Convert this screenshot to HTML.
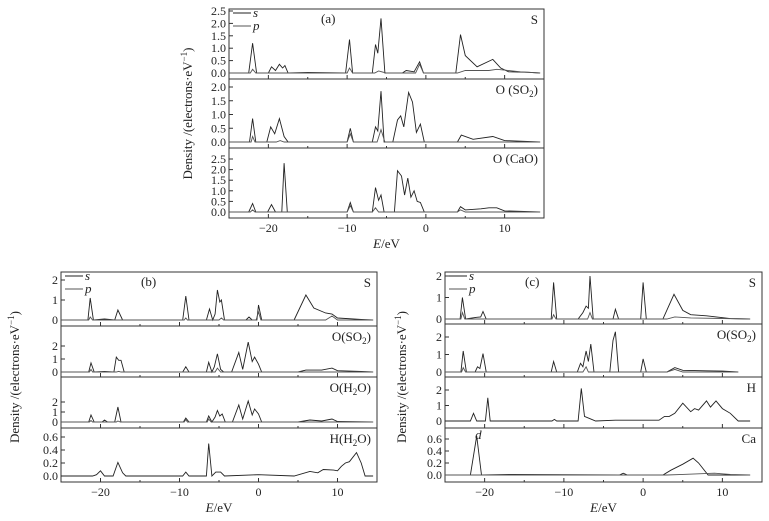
<!DOCTYPE html>
<html><head><meta charset="utf-8"><style>
body{margin:0;background:#fff;width:769px;height:521px;overflow:hidden}
svg{display:block}
text{font-family:"Liberation Serif",serif;fill:#222}
</style></head><body>
<svg id="fig" width="769" height="521" viewBox="0 0 769 521"></svg>
<script>
// ---- data: [E (eV), density] pairs ----
const xTicks=[-20,-10,0,10];
const a_S_p=[[-25,0],[-22.5,0],[-22,1.2],[-21.5,0],[-20,0],[-19.6,0.25],[-19.1,0.1],[-18.6,0.35],[-18.2,0.2],[-17.9,0.3],[-17.5,0],[-15,0.02],[-10.2,0],[-9.7,1.35],[-9.3,0],[-6.8,0],[-6.4,1.15],[-6.1,0.8],[-5.7,2.2],[-5.2,0],[-3,0],[-2.5,0.1],[-1.5,0.05],[-0.8,0.45],[-0.3,0],[3.8,0],[4.4,1.55],[5,0.7],[6.5,0.25],[8.5,0.55],[9.5,0.2],[10.5,0.05],[13,0.03],[14.5,0]];
const a_S_s=[[-25,0],[-22.3,0],[-22,0.15],[-21.6,0],[-10,0],[-9.7,0.2],[-9.3,0],[-6.5,0],[-6,0.08],[-5,0],[-1.3,0],[-0.8,0.35],[-0.3,0],[4,0],[5,0.1],[8,0.1],[9,0.15],[12,0.05],[14.5,0]];
const a_O1_p=[[-25,0],[-22.4,0],[-22,0.85],[-21.6,0],[-20.2,0],[-19.7,0.55],[-19.2,0.3],[-18.6,0.85],[-18,0.2],[-17.5,0],[-10,0],[-9.6,0.5],[-9.2,0],[-6.8,0],[-6.4,0.55],[-6.1,0.4],[-5.7,1.85],[-5.3,0],[-4.2,0],[-3.6,0.8],[-3.2,0.95],[-2.8,0.55],[-2.2,1.8],[-1.7,1.45],[-1.2,0.35],[-0.7,0.65],[-0.2,0],[4,0],[4.5,0.25],[6,0.1],[8.5,0.2],[10,0.05],[14.5,0]];
const a_O1_s=[[-25,0],[-22.2,0],[-22,0.2],[-21.7,0],[-19,0],[-18.5,0.05],[-18,0],[-10,0],[-9.6,0.3],[-9.2,0],[-6.2,0],[-5.7,0.45],[-5.2,0],[14.5,0]];
const a_O2_p=[[-25,0],[-22.5,0],[-22,0.4],[-21.6,0],[-20.1,0],[-19.6,0.35],[-19.1,0],[-18.3,0],[-18,2.3],[-17.6,0],[-10,0],[-9.6,0.45],[-9.2,0],[-6.8,0],[-6.4,1.15],[-6,0.55],[-5.7,0.8],[-5.3,0],[-4,0],[-3.6,1.95],[-3.1,1.7],[-2.7,0.8],[-2.3,1.6],[-1.9,0.7],[-1.5,1.0],[-1.1,0.5],[-0.7,0.45],[-0.2,0],[4,0],[4.4,0.25],[5,0.1],[7,0.15],[8,0.2],[9,0.2],[10,0.05],[14.5,0]];
const a_O2_s=[[-25,0],[-22.3,0],[-22,0.1],[-21.7,0],[-10,0],[-9.6,0.3],[-9.2,0],[-6.8,0],[-6.4,0.2],[-6,0],[4,0],[4.4,0.1],[5,0],[14.5,0]];
const b_S_p=[[-25,0],[-21.6,0],[-21.3,1.1],[-20.9,0],[-19.5,0.05],[-18.2,0],[-17.8,0.5],[-17.2,0],[-9.6,0],[-9.2,1.2],[-8.8,0],[-6.6,0],[-6.2,0.55],[-5.8,0],[-5.5,0.3],[-5.2,1.5],[-4.9,0.9],[-4.7,1.0],[-4.3,0],[-1.6,0],[-1.2,0.15],[-0.8,0],[-0.2,0],[0,0.75],[0.4,0],[4.5,0],[6,1.25],[7,0.6],[8.5,0.35],[9.3,0.3],[10,0.1],[13,0.03],[14.5,0]];
const b_S_s=[[-25,0],[-21.5,0],[-21.3,0.15],[-21,0],[-9.4,0],[-9.2,0.1],[-9,0],[-5,0],[-4.7,0.1],[-4.4,0],[-0.3,0],[0,0.4],[0.3,0],[8.5,0],[9.3,0.2],[10,0],[14.5,0]];
const b_O1_p=[[-25,0],[-21.5,0],[-21.2,0.7],[-20.8,0],[-19.5,0.05],[-18.3,0],[-18,1.15],[-17.7,0.9],[-17.4,0.9],[-17,0],[-9.6,0],[-9.2,0.4],[-8.8,0],[-6.6,0],[-6.3,0.75],[-5.9,0],[-5.6,0.4],[-5.2,1.4],[-4.8,0.2],[-4.4,0],[-3.4,0],[-2.5,1.5],[-2,0.2],[-1.3,2.3],[-0.8,0.8],[-0.5,1.15],[0,0.6],[0.4,0],[5,0],[6,0.15],[8,0.15],[9.3,0.3],[10,0.1],[13,0.05],[14.5,0]];
const b_O1_s=[[-25,0],[-21.4,0],[-21.2,0.2],[-21,0],[-18,0],[-17.7,0.05],[-17.4,0],[-5.5,0],[-5.2,0.3],[-4.8,0],[14.5,0]];
const b_O2_p=[[-25,0],[-21.5,0],[-21.2,0.7],[-20.8,0],[-19.8,0],[-19.5,0.2],[-19.1,0],[-18.2,0],[-17.8,1.5],[-17.4,0],[-9.5,0],[-9.2,0.4],[-8.8,0],[-6.6,0],[-6.3,0.6],[-5.9,0],[-5.5,0.5],[-5.2,1.15],[-4.9,0.6],[-4.6,0.8],[-4.2,0],[-3.3,0],[-2.5,1.7],[-2,0.3],[-1.3,2.1],[-0.8,0.7],[-0.5,1.3],[0,0.8],[0.4,0],[5,0],[6.5,0.2],[8,0.1],[9.3,0.3],[10,0.05],[14.5,0]];
const b_O2_s=[[-25,0],[-21.4,0],[-21.2,0.15],[-21,0],[-18,0],[-17.8,0.1],[-17.5,0],[-9.4,0],[-9.2,0.25],[-9,0],[-6.5,0],[-6.3,0.3],[-6,0],[14.5,0]];
const b_H_s=[[-25,0],[-21,0],[-20.5,0.02],[-20,0.08],[-19.5,0],[-18.4,0],[-17.8,0.21],[-17.2,0.05],[-16.8,0],[-9.6,0],[-9.2,0.06],[-8.8,0],[-6.6,0],[-6.3,0.5],[-5.9,0],[-5.4,0.06],[-4.8,0.06],[-4.3,0],[0,0.02],[4.5,0],[6.5,0.07],[7.5,0.05],[8.2,0.1],[9.5,0.09],[10,0.08],[10.5,0.15],[11,0.2],[11.5,0.22],[12.4,0.36],[13,0.2],[13.5,0],[14.5,0]];
const c_S_p=[[-25,0],[-23.1,0],[-22.8,1.0],[-22.4,0],[-21,0.08],[-20.5,0.1],[-20.2,0.35],[-19.8,0],[-11.6,0],[-11.3,1.7],[-10.9,0],[-8.2,0],[-7.6,0.3],[-7.2,0.6],[-6.9,0.5],[-6.7,2.0],[-6.3,0],[-3.8,0],[-3.5,0.45],[-3.1,0],[-0.3,0],[0,1.7],[0.4,0],[2.5,0],[3.9,1.15],[5,0.4],[6,0.2],[8,0.15],[11,0.02],[13.5,0]];
const c_S_s=[[-25,0],[-23,0],[-22.8,0.3],[-22.5,0],[-11.5,0],[-11.3,0.2],[-11,0],[-7,0],[-6.7,0.3],[-6.4,0],[3,0],[4,0.1],[6,0.05],[13.5,0]];
const c_O_p=[[-25,0],[-23,0],[-22.7,1.2],[-22.3,0],[-21.2,0],[-20.9,0.3],[-20.6,0.2],[-20.2,1.05],[-19.8,0],[-11.6,0],[-11.3,0.6],[-10.9,0],[-8.3,0],[-7.9,0.5],[-7.6,0.3],[-7.2,1.2],[-6.9,0.6],[-6.6,1.6],[-6.2,0],[-4.2,0],[-3.8,1.8],[-3.5,2.3],[-3.1,0],[-0.3,0],[0,0.75],[0.4,0],[3,0],[4,0.25],[5,0.1],[8,0.07],[10,0.05],[12,0]];
const c_O_s=[[-25,0],[-22.9,0],[-22.7,0.25],[-22.4,0],[-7.6,0],[-7.2,0.3],[-6.9,0],[3,0],[4,0.15],[5,0],[12,0]];
const c_H_s=[[-25,0],[-21.8,0],[-21.4,0.5],[-21,0],[-19.9,0],[-19.6,1.5],[-19.3,0],[-11.5,0],[-11.2,0.1],[-10.9,0],[-8.2,0],[-7.8,2.1],[-7.4,0.3],[-6.7,0.15],[-6,0],[-3.5,0.05],[0,0.05],[2,0.05],[2.7,0.3],[3.3,0.3],[4,0.5],[5,1.15],[6,0.6],[6.5,0.8],[7,0.7],[8,1.3],[8.5,0.9],[9.2,1.3],[10,0.8],[11,0.5],[12,0],[13.5,0]];
const c_Ca_d=[[-25,0],[-21.8,0],[-21,0.65],[-20.4,0],[-16.5,0.01],[-3,0],[-2.5,0.03],[-2,0],[2.5,0],[3.5,0.08],[5,0.18],[6.3,0.28],[7,0.2],[8.2,0],[13.5,0]];
const c_Ca_p=[[-25,0],[3,0],[5,0.01],[7,0.02],[9,0.03],[11,0.01],[13.5,0]];
const ticksA1=[0,0.5,1,1.5,2,2.5], ticksA2=[0,0.5,1,1.5,2], ticksB=[0,1,2], ticksH=[0,0.2,0.4,0.6];

const svg=document.getElementById('fig');
const NS='http://www.w3.org/2000/svg';
function mk(tag,attrs,parent){const e=document.createElementNS(NS,tag);for(const k in attrs)e.setAttribute(k,attrs[k]);(parent||svg).appendChild(e);return e;}
function fmt(v,dec){return v<0?'\u2212'+Math.abs(v).toFixed(dec):v.toFixed(dec);}

function panel(p){
  const g=mk('g',{});
  
  
  const xs=e=>p.x0+(e-p.e0)*(p.x1-p.x0)/(p.e1-p.e0);
  p.subs.forEach((s,i)=>{
    const ys=v=>s.y0-v*s.k;
    const sg=mk('g',{},g);
    
    
    const fr=mk('rect',{x:p.x0,y:s.top,width:p.x1-p.x0,height:s.bot-s.top,fill:'none',stroke:'#333','stroke-width':1},sg);
    
    
    s.ticks.forEach(t=>{
      const y=ys(t);
      mk('line',{x1:p.x0,x2:p.x0+4,y1:y,y2:y,stroke:'#333'},sg);
      const tl=mk('text',{x:p.x0-3,y:y+4,'font-size':12,'text-anchor':'end'},sg);
      tl.textContent=s.dec?t.toFixed(s.dec):String(t);
      
      
    });
    [-20,-15,-10,-5,0,5,10].forEach(t=>{const x=xs(t);mk('line',{x1:x,x2:x,y1:s.bot,y2:s.bot-(t%10===0?4:2),stroke:'#333'},sg);});
    s.series.forEach((d,j)=>{
      const pl=mk('polyline',{points:d.map(q=>xs(q[0]).toFixed(1)+','+ys(q[1]).toFixed(1)).join(' '),fill:'none',stroke:j===0?'#222':'#555','stroke-width':0.9},sg);
      
      
    });
    const lb=mk('text',{x:p.x1-6,y:s.top+15,'font-size':13,'text-anchor':'end'},sg);
    lb.innerHTML=s.label;
    
    
    if(s.dlabel){const dl=mk('text',{x:xs(-21.2),y:s.top+11,'font-size':13,'font-style':'italic'},sg);dl.textContent='d';
      
      }
  });
  const top=p.subs[0].top, bot=p.subs[p.subs.length-1].bot;
  xTicks.forEach(t=>{const tl=mk('text',{x:xs(t),y:bot+14,'font-size':12,'text-anchor':'middle'},g);tl.textContent=fmt(t,0);
    
    });
  const xt=mk('text',{x:(p.x0+p.x1)/2,y:bot+30,'font-size':13,'text-anchor':'middle'},g);
  xt.innerHTML='<tspan font-style="italic">E</tspan>/eV';
  
  
  const cy=(top+bot)/2;
  const yt=mk('text',{x:p.ytx,y:cy,'font-size':13,'text-anchor':'middle',transform:'rotate(-90 '+p.ytx+' '+cy+')'},g);
  yt.innerHTML='Density /(electrons\u00b7eV<tspan dy="-5" font-size="9">\u22121</tspan><tspan dy="5">)</tspan>';
  
  
  const lg=mk('g',{},g);
  
  
  [['s',top+7],['p',top+20]].forEach((it,k)=>{
    mk('line',{x1:p.x0+4,x2:p.x0+22,y1:it[1]-3,y2:it[1]-3,stroke:k?'#555':'#222'},lg);
    const t=mk('text',{x:p.x0+24,y:it[1]+1,'font-size':13,'font-style':'italic'},lg);t.textContent=it[0];
    
    
  });
  const pl=mk('text',{x:p.x0+p.tagx,y:top+14,'font-size':13},g);pl.textContent='('+p.id+')';
  
  
}
const sub='<tspan dy="3" font-size="9">2</tspan><tspan dy="-3">)</tspan>';
panel({id:'a',x0:229,x1:544,e0:-25,e1:15,ytx:192,tagx:92,subs:[
 {name:'S',label:'S',top:9,bot:79,y0:73,k:24.8,ticks:ticksA1,dec:1,series:[a_S_p,a_S_s]},
 {name:'O-SO2',label:'O (SO'+sub,top:79,bot:148,y0:142,k:27.5,ticks:ticksA2,dec:1,series:[a_O1_p,a_O1_s]},
 {name:'O-CaO',label:'O (CaO)',top:148,bot:218,y0:212,k:21.2,ticks:ticksA1,dec:1,series:[a_O2_p,a_O2_s]}]});
panel({id:'b',x0:61,x1:377,e0:-25,e1:15,ytx:19,tagx:80,subs:[
 {name:'S',label:'S',top:272,bot:326,y0:320,k:20,ticks:ticksB,series:[b_S_p,b_S_s]},
 {name:'O-SO2',label:'O(SO'+sub,top:326,bot:377,y0:372,k:13,ticks:ticksB,series:[b_O1_p,b_O1_s]},
 {name:'O-H2O',label:'O(H<tspan dy="3" font-size="9">2</tspan><tspan dy="-3">O)</tspan>',top:377,bot:428,y0:422,k:10,ticks:ticksB,series:[b_O2_p,b_O2_s]},
 {name:'H-H2O',label:'H(H<tspan dy="3" font-size="9">2</tspan><tspan dy="-3">O)</tspan>',top:428,bot:482,y0:476,k:65,ticks:ticksH,dec:1,series:[b_H_s]}]});
panel({id:'c',x0:445,x1:762,e0:-25,e1:15,ytx:406,tagx:80,subs:[
 {name:'S',label:'S',top:272,bot:324,y0:319,k:21.5,ticks:ticksB,series:[c_S_p,c_S_s]},
 {name:'O-SO2',label:'O(SO'+sub,top:324,bot:377,y0:372,k:17.5,ticks:ticksB,series:[c_O_p,c_O_s]},
 {name:'H',label:'H',top:377,bot:428,y0:421,k:15.5,ticks:ticksB,series:[c_H_s]},
 {name:'Ca',label:'Ca',top:428,bot:482,y0:475,k:60,ticks:ticksH,dec:1,dlabel:true,series:[c_Ca_d,c_Ca_p]}]});
</script>
</body></html>
